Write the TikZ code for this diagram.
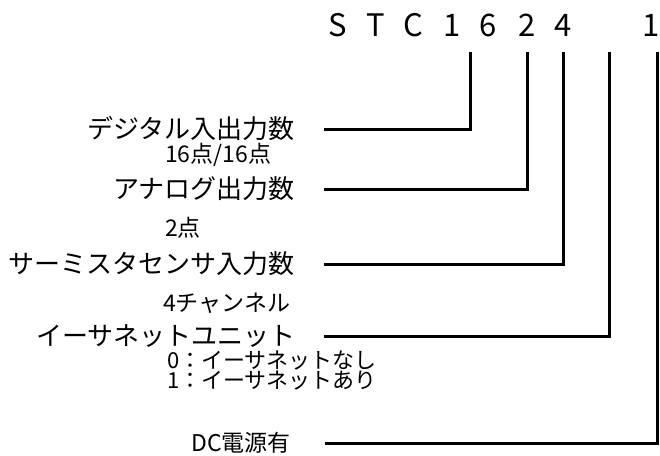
\documentclass[tikz,border=0pt]{standalone}
\usepackage{fontspec}
\newfontfamily\jpfont{Noto Sans CJK JP}
\usetikzlibrary{positioning,calc}
\tikzset{
  wire/.style={line width=3pt},
  biglabel/.style={anchor=east,inner sep=0pt,font=\jpfont\fontsize{26}{28}\selectfont},
  note/.style={anchor=west,inner sep=0pt,font=\jpfont\fontsize{23}{25}\selectfont},
  code/.style={anchor=base,inner sep=0pt,font=\jpfont\fontsize{31}{34}\selectfont},
}

\begin{document}
\begin{tikzpicture}[x=1pt,y=-1pt]
    \useasboundingbox (0,0) rectangle (660,455);

    % model code
    \foreach \ch/\xx/\nm in {S/338/cS,T/376/cT,C/413/cC,1/452/cone,6/488/csix,2/527/ctwo,4/563/cfour,1/651/cpow}
        \node [code] (\nm) at (\xx,36) {\ch};

    % items
    \node [biglabel] (dio) at (295,129) {デジタル入出力数};
    \node [biglabel] (ao) at (295,189) {アナログ出力数};
    \node [biglabel] (th) at (295,264) {サーミスタセンサ入力数};
    \node [biglabel] (eth) at (296,336) {イーサネットユニット};
    \node [biglabel,font=\jpfont\fontsize{23}{25}\selectfont] (dc) at (291,443) {DC電源有};

    \node [note] (diov) at (165,155) {16点/16点};
    \node [note] (aov) at (165,228) {2点};
    \node [note] (thv) at (163,303) {4チャンネル};
    \node [note,align=left,font=\jpfont\fontsize{22}{20}\selectfont] (ethv) at (167,370)
        {0：イーサネットなし\\1：イーサネットあり};

    \coordinate (t16) at ($(cone.base)!.5!(csix.base)+(0,16)$);
    \coordinate (tnone) at ($(cfour.base)+(46,16)$);

    \draw [wire] ([xshift=29pt]dio.east) -| (t16);
    \draw [wire] ([xshift=29pt]ao.east) -| ([yshift=-16pt]ctwo.base);
    \draw [wire] ([xshift=29pt]th.east) -| ([yshift=-16pt]cfour.base);
    \draw [wire] ([xshift=28pt]eth.east) -| (tnone);
    \draw [wire] ([xshift=34pt]dc.east) -| ([xshift=6pt,yshift=-16pt]cpow.base);
\end{tikzpicture}
\end{document}
